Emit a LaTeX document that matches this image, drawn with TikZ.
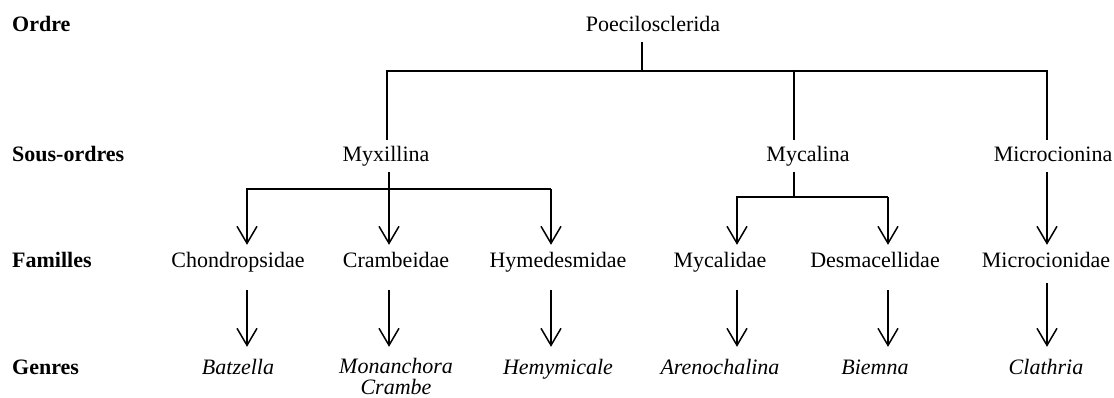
\documentclass[tikz,border=0pt]{standalone}
\usepackage{fontspec}
\setmainfont{Liberation Serif}
\usetikzlibrary{arrows.meta}
\begin{document}
\begin{tikzpicture}[x=1pt,y=-1pt,
  tx/.style={font=\fontsize{22}{21}\selectfont, anchor=base, inner sep=0pt, text height=15pt, text depth=5pt},
  gen/.style={tx, font=\fontsize{22}{21}\selectfont\itshape},
  lab/.style={font=\fontsize{22}{26}\selectfont\bfseries, anchor=base west, inner sep=0pt},
  ln/.style={line width=1.5pt},
  arr/.style={line width=1.5pt, -{Straight Barb[length=17pt,width=20pt]}}]
\useasboundingbox (0,0) rectangle (1114,398);
% row labels
\node[lab] (lo) at (12,32) {Ordre};
\node[lab] (ls) at (12,162) {Sous-ordres};
\node[lab] (lf) at (12,268) {Familles};
\node[lab] (lg) at (12,374) {Genres};
% order
\node[tx] (poe) at (653,32) {Poecilosclerida};
% sub-orders
\node[tx] (myx) at (386,162) {Myxillina};
\node[tx] (myc) at (808,162) {Mycalina};
\node[tx] (mic) at (1053,162) {Microcionina};
% families
\node[tx] (chond) at (238,268) {Chondropsidae};
\node[tx] (cramb) at (396,268) {Crambeidae};
\node[tx] (hyme) at (558,268) {Hymedesmidae};
\node[tx] (mycd) at (720,268) {Mycalidae};
\node[tx] (desm) at (875,268) {Desmacellidae};
\node[tx] (micd) at (1046,268) {Microcionidae};
% genera
\node[gen] (batz) at (238,374) {Batzella};
\node[gen, font=\fontsize{22}{20.5}\selectfont\itshape] (mona) at (396,373) {\begin{tabular}[t]{@{}c@{}}Monanchora\\Crambe\end{tabular}};
\node[gen] (hemy) at (558,374) {Hemymicale};
\node[gen] (aren) at (720,374) {Arenochalina};
\node[gen] (biem) at (875,374) {Biemna};
\node[gen] (clat) at (1046,374) {Clathria};
% coordinates of bars
\coordinate (t0) at (642,70);
\coordinate (tL) at (387,70);
\coordinate (tM) at (794,70);
\coordinate (tR) at (1047,71);
\coordinate (m0) at (389,189);
\coordinate (m0e) at (389,208);
\coordinate (mL) at (247,189);
\coordinate (mR) at (551,189);
\coordinate (y0) at (794,197);
\coordinate (yL) at (737,197);
\coordinate (yR) at (888,197);
% order -> sub-orders
\draw[ln, shorten <=5pt] (poe.south -| t0) -- (t0);
\draw[ln, shorten <=7pt, shorten >=7pt] (myx.north -| tL) |- (tR) -- (mic.north -| tR);
\draw[ln, shorten >=7pt] (tM) -- (myc.north -| tM);
% Myxillina -> families
\draw[ln, shorten <=5pt] (myx.south -| m0) -- (m0e);
\draw[arr, shorten >=8pt] (mR) -- (mL) -- (chond.north -| mL);
\draw[arr, shorten >=8pt] (mR) -- (hyme.north -| mR);
\draw[arr, shorten >=8pt] (m0) -- (cramb.north -| m0);
% Mycalina -> families
\draw[ln, shorten <=5pt] (myc.south -| y0) -- (y0);
\draw[arr, shorten >=8pt] (yR) -- (yL) -- (mycd.north -| yL);
\draw[arr, shorten >=8pt] (yR) -- (desm.north -| yR);
% Microcionina -> Microcionidae
\draw[arr, shorten <=5pt, shorten >=8pt] (mic.south -| tR) -- (micd.north -| tR);
% families -> genera
\draw[arr, shorten <=17pt, shorten >=12pt] (chond.south -| mL) -- (batz.north -| mL);
\draw[arr, shorten <=17pt, shorten >=11pt] (cramb.south -| m0) -- (mona.north -| m0);
\draw[arr, shorten <=17pt, shorten >=12pt] (hyme.south -| mR) -- (hemy.north -| mR);
\draw[arr, shorten <=17pt, shorten >=12pt] (mycd.south -| yL) -- (aren.north -| yL);
\draw[arr, shorten <=17pt, shorten >=12pt] (desm.south -| yR) -- (biem.north -| yR);
\draw[arr, shorten <=10pt, shorten >=12pt] (micd.south -| tR) -- (clat.north -| tR);
\end{tikzpicture}
\end{document}
